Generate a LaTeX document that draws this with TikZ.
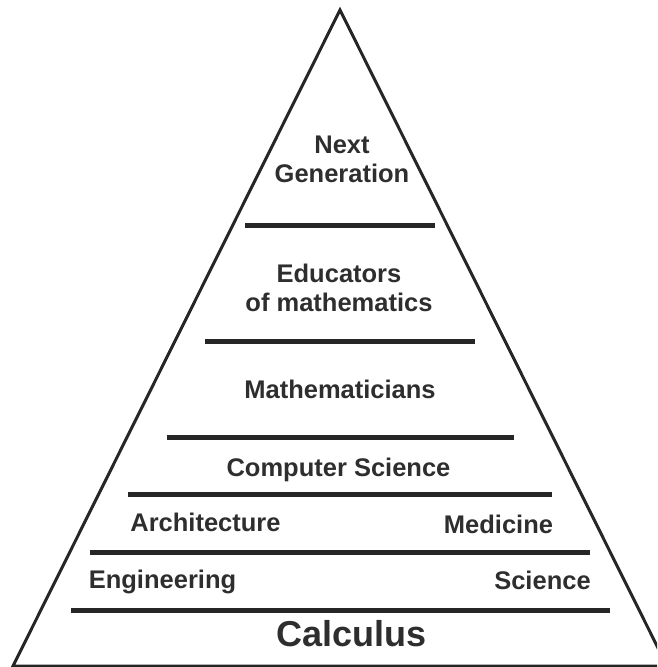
\documentclass[tikz,border=0pt]{standalone}
\usepackage{fontspec}
\setmainfont{Liberation Sans}
\usetikzlibrary{positioning}

\begin{document}
\begin{tikzpicture}[x=1pt, y=-1pt,
    lbl/.style={font=\bfseries\fontsize{25.5}{28.5}\selectfont, text=black!82, anchor=base, align=center, inner sep=0pt},
    layer/.style={line width=5pt, draw=black!85}]
    \useasboundingbox (0,0) rectangle (657,667);
    \clip (0,0) rectangle (657,667);

    % ピラミッド
    \draw[line width=3pt, black!85, line join=miter] (340,10) -- (13,666) -- (667,666) -- cycle;

    % 区切り線
    \draw[layer] (245,225) -- (435,225);
    \draw[layer] (205,341) -- (475,341);
    \draw[layer] (167,437) -- (514,437);
    \draw[layer] (128,494) -- (552,494);
    \draw[layer] (90,552) -- (590,552);
    \draw[layer] (71,610) -- (610,610);

    % ラベル
    \node[lbl] (next) at (342,182) {Next\\Generation};
    \node[lbl] (educ) at (339,311) {Educators\\of mathematics};
    \node[lbl] (math) at (340,398) {Mathematicians};
    \node[lbl] (cs) at (338.5,476) {Computer Science};
    \node[lbl] (arch) at (205.5,531) {Architecture};
    \node[lbl] (med) at (498.5,533) {Medicine};
    \node[lbl] (eng) at (162.5,588) {Engineering};
    \node[lbl] (sci) at (542.5,589) {Science};
    \node[lbl, font=\bfseries\fontsize{36}{40}\selectfont] (calc) at (351.5,646) {Calculus};
\end{tikzpicture}
\end{document}
